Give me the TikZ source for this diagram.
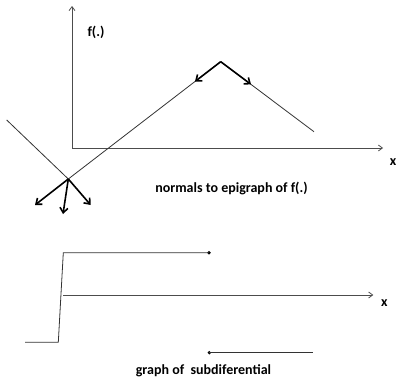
\documentclass[tikz,border=0pt]{standalone}
\usepackage{fontspec}
\setmainfont{Carlito}
\usetikzlibrary{arrows.meta}
\tikzset{
  thinline/.style={line width=0.8pt, draw=black!80},
  axisline/.style={line width=0.8pt, draw=black!70, -{Straight Barb[length=4pt,width=6pt]}},
  normalarrow/.style={line width=1.6pt, draw=black, -{Straight Barb[length=5pt,width=8pt]}},
  lbl/.style={font=\fontsize{14}{17}\selectfont\bfseries, inner sep=0pt},
  dot/.style={circle, fill=black, inner sep=0pt, minimum size=3.6pt}
}
\begin{document}
\begin{tikzpicture}[x=1pt,y=-1pt]
\useasboundingbox (0,0) rectangle (398,383);
% top axes
\coordinate (O) at (72,148);
\coordinate (Ytop) at (72,6);
\coordinate (Xend) at (383,148);
\draw[axisline] (O) -- (Ytop);
\draw[axisline] (O) -- (Xend);
\node[lbl] (flabel) at (96,32) {f(.)};
\node[lbl] (xlabel) at (393,162) {x};
% function graph
\coordinate (P) at (220.7,61.7);
\coordinate (C) at (68.3,179);
\coordinate (R) at (314,131.7);
\coordinate (S) at (6.7,120);
\coordinate (A) at (195,81.5);
\coordinate (B) at (251,84.4);
\draw[thinline] (P) -- (C);
\draw[thinline] (P) -- (R);
\draw[thinline] (S) -- (C);
\draw[normalarrow] (P) -- (A);
\draw[normalarrow] (P) -- (B);
% normals at the corner
\coordinate (N1) at (35,205);
\coordinate (N2) at (63,214);
\coordinate (N3) at (90.7,205);
\draw[normalarrow] (C) -- (N1);
\draw[normalarrow] (C) -- (N2);
\draw[normalarrow] (C) -- (N3);
\node[lbl] (normlabel) at (231.5,188) {normals to epigraph of f(.)};
% subdifferential graph
\coordinate (Q1) at (63.3,252.7);
\coordinate (Q2) at (58.3,342.3);
\coordinate (Q0) at (25,342.3);
\node[dot] (D1) at (209,252.7) {};
\node[dot] (D2) at (209.3,352.7) {};
\coordinate (E2) at (313.3,352.7);
\draw[thinline] (Q0) -- (Q2) -- (Q1) -- (D1.center);
\draw[thinline] (D2.center) -- (E2);
\coordinate (O2) at (63.3,295);
\coordinate (X2) at (373.3,295);
\draw[axisline] (O2) -- (X2);
\node[lbl] (x2label) at (384.3,303) {x};
\node[lbl] (sublabel) at (203.5,371) {graph of\ \ subdiferential};
\end{tikzpicture}
\end{document}
